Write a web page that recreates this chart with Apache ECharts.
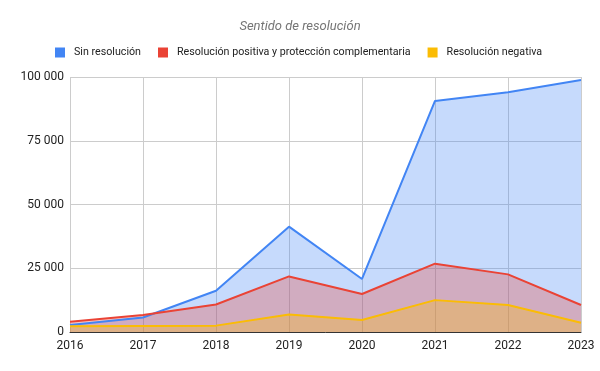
<!DOCTYPE html>
<html>
<head>
<meta charset="utf-8">
<script src="https://cdn.jsdelivr.net/npm/echarts@6/dist/echarts.min.js"></script>
<style>
  html, body { margin: 0; padding: 0; background: #fff; }
  #main { width: 600px; height: 371px; }
</style>
</head>
<body>
<div id="main"></div>
<script>
// datos
const years = ['2016', '2017', '2018', '2019', '2020', '2021', '2022', '2023'];
const sinResolucion = [2700, 5700, 16200, 41300, 20800, 90600, 94000, 98800];
const resolucionPositiva = [4000, 6700, 10800, 21800, 14900, 26800, 22600, 10600];
const resolucionNegativa = [2300, 2400, 2500, 6900, 4700, 12500, 10600, 3600];
const seriesNames = ['Sin resolución', 'Resolución positiva y protección complementaria', 'Resolución negativa'];
const colors = ['#4285F4', '#EA4335', '#FBBC04'];

let chart = echarts.init(document.getElementById('main'));

function fmt(v) {
  return String(v).replace(/\B(?=(\d{3})+(?!\d))/g, ' ');
}

function makeSerie(name, data, color) {
  return {
    name: name,
    type: 'line',
    data: data,
    symbol: 'none',
    lineStyle: { color: color, width: 2 },
    itemStyle: { color: color },
    areaStyle: { color: color, opacity: 0.3 }
  };
}

const option = {
  animation: false,
  title: {
    text: 'Sentido de resolución',
    left: 'center',
    top: 15,
    textStyle: { fontFamily: 'Roboto', fontStyle: 'italic', fontWeight: 'normal', fontSize: 13, color: '#757575' }
  },
  legend: {
    top: 42,
    left: 50,
    icon: 'rect',
    itemWidth: 10,
    itemHeight: 10,
    itemGap: 17,
    textStyle: { fontFamily: 'Roboto', fontSize: 10.7, color: '#222', padding: [0, 0, 0, 4] },
    data: seriesNames
  },
  grid: { left: 70, right: 19, top: 77, bottom: 39 },
  xAxis: {
    type: 'category',
    data: years,
    boundaryGap: false,
    axisLine: { lineStyle: { color: '#333', width: 1 } },
    axisTick: { show: false },
    axisLabel: { color: '#222', fontFamily: 'Roboto', fontSize: 12, margin: 8 },
    splitLine: { show: true, lineStyle: { color: '#ccc' } }
  },
  yAxis: {
    type: 'value',
    min: 0,
    max: 100000,
    interval: 25000,
    axisLine: { show: false },
    axisTick: { show: false },
    axisLabel: { color: '#222', fontFamily: 'Roboto', fontSize: 12, margin: 6, formatter: fmt },
    splitLine: { lineStyle: { color: '#ccc' } }
  },
  series: [
    makeSerie(seriesNames[0], sinResolucion, colors[0]),
    makeSerie(seriesNames[1], resolucionPositiva, colors[1]),
    makeSerie(seriesNames[2], resolucionNegativa, colors[2])
  ]
};
chart.setOption(option);
</script>
</body>
</html>
